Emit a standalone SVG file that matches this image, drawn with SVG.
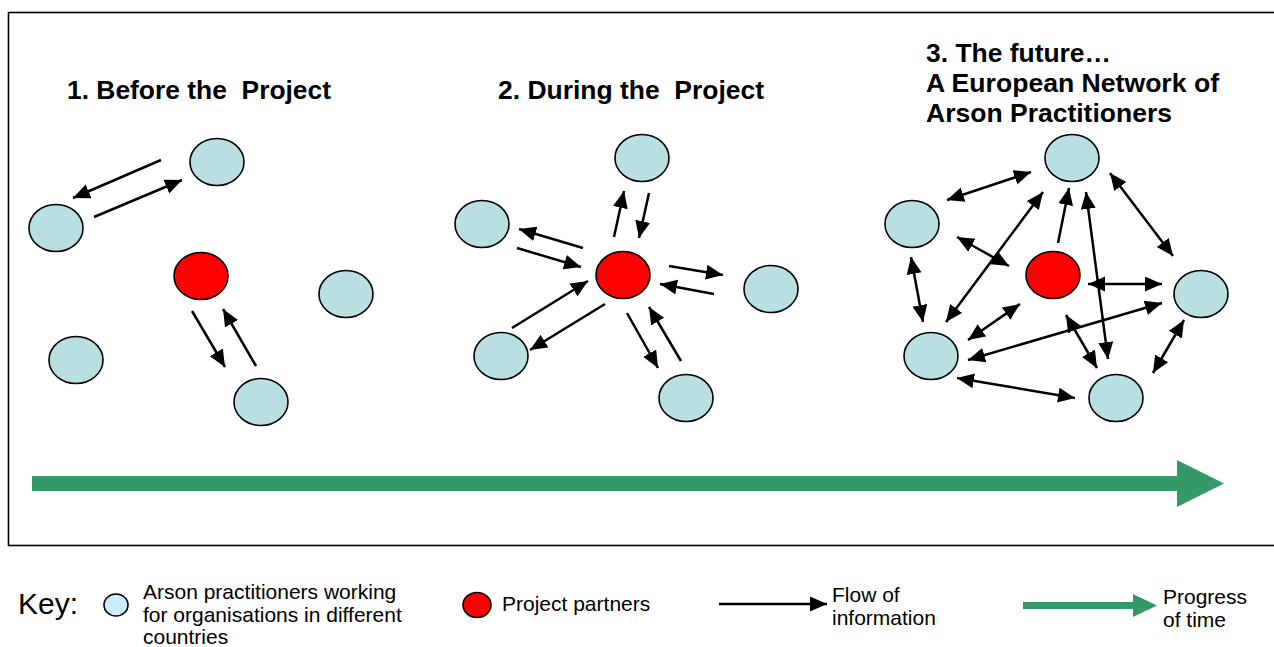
<svg xmlns="http://www.w3.org/2000/svg" width="1274" height="647" viewBox="0 0 1274 647">
<style>
.n{fill:#B9DFE1;stroke:#000;stroke-width:1.6}
.p{fill:#FF0000;stroke:#000;stroke-width:1.6}
.c line{stroke:#000;stroke-width:2.5}
.one{marker-end:url(#ah)}
.two{marker-start:url(#ah);marker-end:url(#ah)}
.t{font-family:"Liberation Sans",Arial,sans-serif;font-weight:bold;font-size:25px;fill:#000}
.k{font-family:"Liberation Sans",Arial,sans-serif;font-size:21px;fill:#000}
</style>
<defs>
<marker id="ah" markerUnits="userSpaceOnUse" markerWidth="18" markerHeight="16" refX="17" refY="7.5" orient="auto-start-reverse" viewBox="0 0 18 16">
<path d="M0,0 L17,7.5 L0,15 z" fill="#000"/>
</marker>
</defs>
<rect x="0" y="0" width="1274" height="647" fill="#fff"/>
<rect id="frame" x="8.5" y="12.5" width="1280" height="533" fill="none" stroke="#000" stroke-width="1.6"/>

<g id="titles">
<text class="t" x="67" y="99" textLength="264" lengthAdjust="spacingAndGlyphs" xml:space="preserve">1. Before the  Project</text>
<text class="t" x="498" y="99" textLength="266" lengthAdjust="spacingAndGlyphs" xml:space="preserve">2. During the  Project</text>
<text class="t" x="926" y="62" textLength="185" lengthAdjust="spacingAndGlyphs">3. The future…</text>
<text class="t" x="926" y="92" textLength="293" lengthAdjust="spacingAndGlyphs">A European Network of</text>
<text class="t" x="926" y="122" textLength="246" lengthAdjust="spacingAndGlyphs">Arson Practitioners</text>
</g>

<g id="s1-nodes">
<g id="s1-n1"><ellipse class="n" cx="217" cy="162" rx="27" ry="23.5"/></g>
<g id="s1-n2"><ellipse class="n" cx="56" cy="228" rx="27" ry="23.5"/></g>
<g id="s1-p"><ellipse class="p" cx="201" cy="276" rx="27" ry="23.5"/></g>
<g id="s1-n3"><ellipse class="n" cx="346" cy="294" rx="27" ry="23.5"/></g>
<g id="s1-n4"><ellipse class="n" cx="76" cy="360" rx="27" ry="23.5"/></g>
<g id="s1-n5"><ellipse class="n" cx="261" cy="402" rx="27" ry="23.5"/></g>
</g>

<g id="s2-nodes">
<g id="s2-n1"><ellipse class="n" cx="642" cy="158" rx="27" ry="23.5"/></g>
<g id="s2-n2"><ellipse class="n" cx="482" cy="224" rx="27" ry="23.5"/></g>
<g id="s2-p"><ellipse class="p" cx="623" cy="275" rx="27" ry="23.5"/></g>
<g id="s2-n3"><ellipse class="n" cx="771" cy="289" rx="27" ry="23.5"/></g>
<g id="s2-n4"><ellipse class="n" cx="501" cy="356" rx="27" ry="23.5"/></g>
<g id="s2-n5"><ellipse class="n" cx="686" cy="398" rx="27" ry="23.5"/></g>
</g>

<g id="s3-nodes">
<g id="s3-n1"><ellipse class="n" cx="1072" cy="158" rx="27" ry="23.5"/></g>
<g id="s3-n2"><ellipse class="n" cx="912" cy="224" rx="27" ry="23.5"/></g>
<g id="s3-p"><ellipse class="p" cx="1053" cy="275" rx="27" ry="23.5"/></g>
<g id="s3-n3"><ellipse class="n" cx="1201" cy="294" rx="27" ry="23.5"/></g>
<g id="s3-n4"><ellipse class="n" cx="931" cy="356" rx="27" ry="23.5"/></g>
<g id="s3-n5"><ellipse class="n" cx="1116" cy="398" rx="27" ry="23.5"/></g>
</g>

<g id="connectors" class="c">
<line class="one" x1="161" y1="160" x2="73" y2="198"/>
<line class="one" x1="94" y1="217" x2="182" y2="180"/>
<line class="one" x1="192" y1="311" x2="225" y2="367"/>
<line class="one" x1="256" y1="366" x2="223" y2="309"/>

<line class="one" x1="614" y1="237" x2="624" y2="191"/>
<line class="one" x1="649" y1="193" x2="639" y2="238"/>
<line class="one" x1="583" y1="248" x2="519" y2="229"/>
<line class="one" x1="517" y1="248" x2="581" y2="267"/>
<line class="one" x1="669" y1="266" x2="723" y2="275"/>
<line class="one" x1="714" y1="294" x2="660" y2="284"/>
<line class="one" x1="512" y1="328" x2="588" y2="281"/>
<line class="one" x1="605" y1="304" x2="530" y2="350"/>
<line class="one" x1="627" y1="313" x2="658" y2="368"/>
<line class="one" x1="681" y1="361" x2="649" y2="307"/>

<line class="two" x1="947" y1="200" x2="1031" y2="172"/>
<line class="two" x1="1110" y1="173" x2="1173" y2="256"/>
<line class="two" x1="911" y1="257" x2="923" y2="322"/>
<line class="two" x1="957" y1="237" x2="1009" y2="266"/>
<line class="two" x1="946" y1="322" x2="1043" y2="192"/>
<line class="one" x1="1058" y1="243" x2="1069" y2="188"/>
<line class="two" x1="1086" y1="192" x2="1108" y2="359"/>
<line class="two" x1="1088" y1="284" x2="1162" y2="284"/>
<line class="two" x1="968" y1="340" x2="1020" y2="304"/>
<line class="two" x1="968" y1="360" x2="1162" y2="303"/>
<line class="two" x1="1066" y1="315" x2="1097" y2="368"/>
<line class="two" x1="1184" y1="320" x2="1153" y2="373"/>
<line class="two" x1="957" y1="378" x2="1075" y2="398"/>
</g>

<g id="time-arrow">
<polygon points="32,476 1177,476 1177,460 1224,483.5 1177,507 1177,491 32,491" fill="#339966"/>
</g>

<g id="key">
<text class="k" x="18" y="614" style="font-size:30px">Key:</text>
<ellipse cx="116" cy="605" rx="12" ry="11" fill="#CCECFF" stroke="#000" stroke-width="1.6"/>
<text class="k" x="143" y="599">Arson practitioners working</text>
<text class="k" x="143" y="621.5">for organisations in different</text>
<text class="k" x="143" y="644">countries</text>
<ellipse cx="477" cy="605" rx="14" ry="12.5" fill="#FF0000" stroke="#000" stroke-width="1.6"/>
<text class="k" x="502" y="611">Project partners</text>
<g class="c"><line class="one" x1="719" y1="604" x2="827" y2="604"/></g>
<text class="k" x="832" y="602">Flow of</text>
<text class="k" x="832" y="624.5">information</text>
<polygon points="1023,602 1133,602 1133,594 1157,605.5 1133,617 1133,609 1023,609" fill="#339966"/>
<text class="k" x="1163" y="604">Progress</text>
<text class="k" x="1163" y="627">of time</text>
</g>
</svg>
